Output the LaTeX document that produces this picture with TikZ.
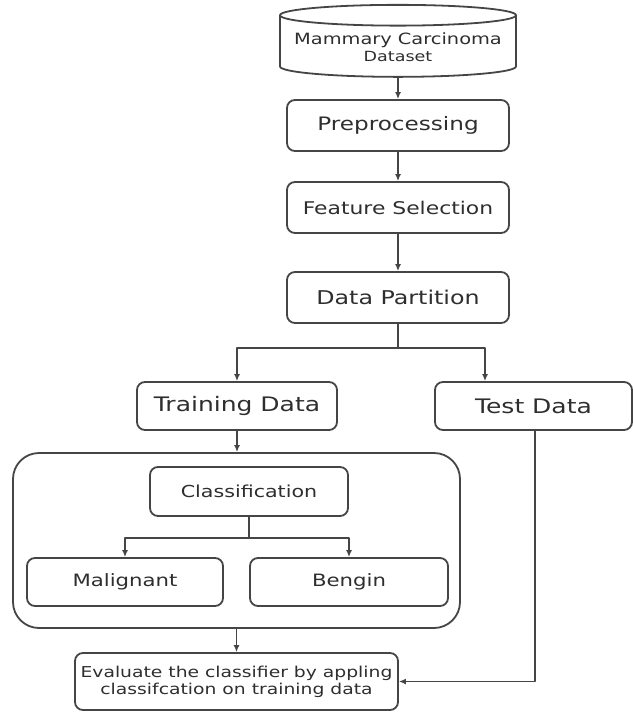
\documentclass[tikz,border=0pt]{standalone}
\usepackage{fontspec}
\setmainfont{DejaVu Sans}[FakeStretch=1.25]
\usepackage{tikz}
\usetikzlibrary{arrows.meta}
\usetikzlibrary{shapes.geometric}
\definecolor{linegray}{rgb}{0.27,0.27,0.27}
\definecolor{textgray}{rgb}{0.18,0.18,0.18}
\newcommand{\setfs}[1]{\fontsize{#1}{#1}\selectfont}

\begin{document}
\begin{tikzpicture}[line cap=round,line join=round,x=1pt,y=-1pt,
	box/.style={draw=linegray,line width=1.8pt,rounded corners=8pt,text=textgray,align=center,inner sep=0pt},
	arr/.style={-{Latex[length=7pt,width=6pt]},draw=linegray,line width=1.8pt}]
						\useasboundingbox (0,0) rectangle (632,712);
						% Datensatz
						\node[draw=linegray,line width=1.8pt,cylinder,shape border rotate=90,aspect=0.1,minimum width=236pt,minimum height=72pt,text=textgray,inner sep=0pt] (data) at (398,46.5) {\raisebox{-5pt}[0pt][0pt]{\begin{tabular}{@{}c@{}}\setfs{15.5}Mammary Carcinoma\\[3pt]\setfs{14}Dataset\end{tabular}}};
						% Schritte
						\node[box,minimum width=222pt,minimum height=51pt,font=\setfs{18.5}] (prep) at (398,125.5) {Preprocessing};
						\node[box,minimum width=222pt,minimum height=51pt,font=\setfs{17.5}] (feat) at (398,207.5) {Feature Selection};
						\node[box,minimum width=222pt,minimum height=51pt,font=\setfs{19}] (part) at (398,297.5) {Data Partition};
						\node[box,minimum width=200pt,minimum height=48pt,font=\setfs{20}] (train) at (237,406) {Training Data};
						\node[box,minimum width=197pt,minimum height=48pt,font=\setfs{20}] (test) at (533.5,406) {Test Data};
						% Klassifikation
						\node[box,rounded corners=26pt,minimum width=447pt,minimum height=175pt] (clsbox) at (236.5,540.5) {};
						\node[box,minimum width=198pt,minimum height=49pt,font=\setfs{16.5}] (classif) at (249,491.5) {Classification};
						\node[box,minimum width=196pt,minimum height=48pt,font=\setfs{17}] (malig) at (125,582) {Malignant};
						\node[box,minimum width=198pt,minimum height=48pt,font=\setfs{17}] (bengin) at (349,582) {Bengin};
						\node[box,minimum width=323pt,minimum height=57pt,font=\fontsize{15}{17}\selectfont] (eval) at (236.5,681.5) {Evaluate the classifier by appling\\classifcation on training data};
						% Pfeile
						\draw[arr] (data.south) -- (prep.north);
						\draw[arr] (prep.south) -- (feat.north);
						\draw[arr] (feat.south) -- (part.north);
						\draw[draw=linegray,line width=1.8pt] (part.south) -- ++(0,24) coordinate (split);
						\draw[arr] (split) -| (train.north);
						\draw[arr] (split) -| ([xshift=-48.5pt]test.north);
						\draw[arr] (train.south) -- (train.south |- clsbox.north);
						\draw[draw=linegray,line width=1.8pt] (classif.south) -- ++(0,21) coordinate (split2);
						\draw[arr] (split2) -| (malig.north);
						\draw[arr] (split2) -| (bengin.north);
						\draw[arr] (clsbox.south) -- (eval.north);
						\draw[arr] ([xshift=1.5pt]test.south) |- (eval.east);
					\end{tikzpicture}
\end{document}
